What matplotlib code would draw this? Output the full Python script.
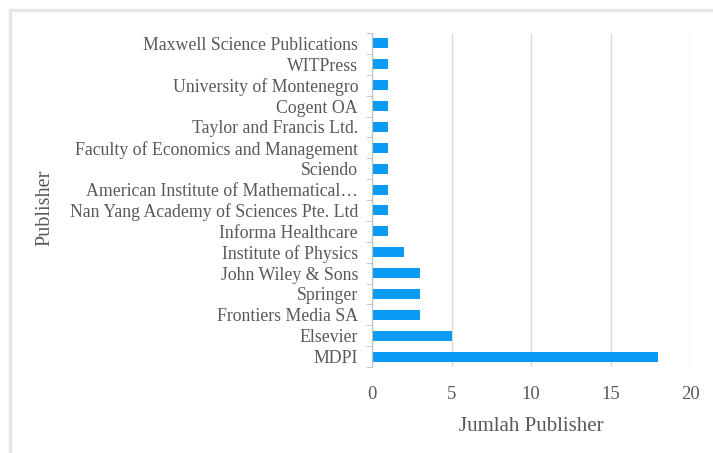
import matplotlib.pyplot as plt
from matplotlib.patches import Rectangle

# data, bottom to top as drawn
publishers = ['MDPI', 'Elsevier', 'Frontiers Media SA', 'Springer', 'John Wiley & Sons',
              'Institute of Physics', 'Informa Healthcare',
              'Nan Yang Academy of Sciences Pte. Ltd',
              'American Institute of Mathematical\u2026', 'Sciendo',
              'Faculty of Economics and Management', 'Taylor and Francis Ltd.',
              'Cogent OA', 'University of Montenegro', 'WITPress',
              'Maxwell Science Publications']
counts = [18, 5, 3, 3, 3, 2, 1, 1, 1, 1, 1, 1, 1, 1, 1, 1]
xticks = [0, 5, 10, 15, 20]

text_color = '#595959'
bar_color = '#0a9bf5'
fontsize = 12.8

plt.rcParams['font.family'] = ['Liberation Serif', 'DejaVu Serif']

fig = plt.figure(figsize=(7.13, 4.53), dpi=100)
# light frame around the chart area
fig.patches.append(Rectangle((10 / 713, -0.1), 1.2, 1 - 10 / 453 + 0.1,
                             transform=fig.transFigure, fill=False,
                             edgecolor='#e6e6e6', linewidth=2.5))

ax = fig.add_axes([372 / 713, 1 - 367 / 453, (690 - 372) / 713, (367 - 33) / 453])
ax.barh(range(len(publishers)), counts, height=0.48, color=bar_color)

ax.set_xlim(0, 20)
ax.set_ylim(-0.5, len(publishers) - 0.5)
ax.set_xticks(xticks)
ax.set_xticklabels([str(x) for x in xticks], fontsize=13.5, color=text_color)
ax.set_yticks(range(len(publishers)))
ax.set_yticklabels(publishers, fontsize=fontsize, color=text_color)
ax.tick_params(axis='y', length=0, pad=10)
ax.tick_params(axis='x', length=0, pad=14)

# small marks at category boundaries on the left axis
ax.set_yticks([i - 0.5 for i in range(len(publishers) + 1)], minor=True)
ax.tick_params(axis='y', which='minor', length=4, color='#bfbfbf')

ax.grid(axis='x', color='#d9d9d9', linewidth=1)
ax.set_axisbelow(True)
for side in ['top', 'right', 'bottom']:
    ax.spines[side].set_visible(False)
ax.spines['left'].set_color('#bfbfbf')

ax.set_xlabel('Jumlah Publisher', fontsize=15, color=text_color, labelpad=10)
fig.text(45 / 713, 1 - 208 / 453, 'Publisher', rotation=90, fontsize=14.5,
         color=text_color, ha='center', va='center')

fig.savefig('out.png', dpi=100)
